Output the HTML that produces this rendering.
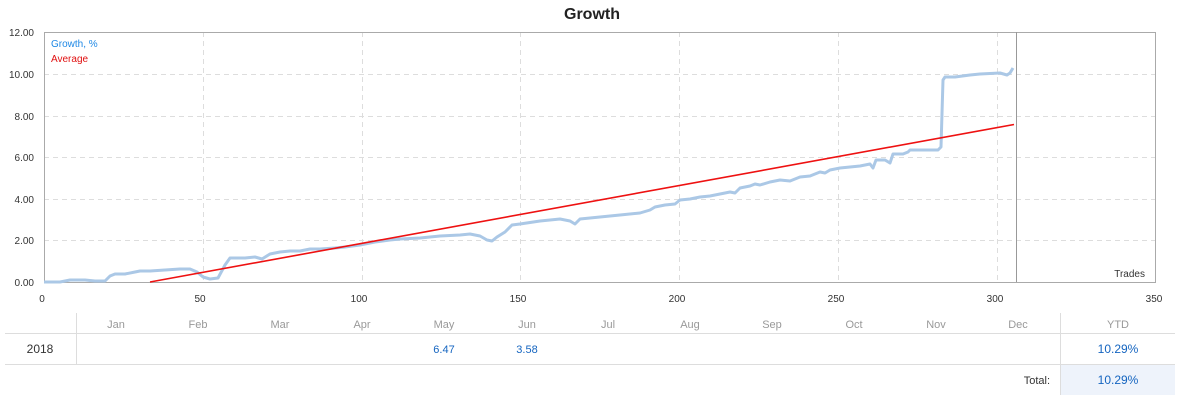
<!DOCTYPE html>
<html><head><meta charset="utf-8"><style>
body{margin:0;background:#fff;width:1185px;height:404px;overflow:hidden;font-family:"Liberation Sans",sans-serif}
</style></head><body>
<svg width="1185" height="404" xmlns="http://www.w3.org/2000/svg" font-family="Liberation Sans, sans-serif">
<text x="592" y="19" text-anchor="middle" font-size="16" font-weight="bold" fill="#222">Growth</text>
<g stroke="#ddd" stroke-dasharray="5,4" stroke-width="1">
<line x1="44" y1="74.5" x2="1155" y2="74.5"/><line x1="44" y1="116.5" x2="1155" y2="116.5"/>
<line x1="44" y1="157.5" x2="1155" y2="157.5"/><line x1="44" y1="199.5" x2="1155" y2="199.5"/>
<line x1="44" y1="240.5" x2="1155" y2="240.5"/>
<line x1="203.5" y1="32" x2="203.5" y2="282"/><line x1="362.5" y1="32" x2="362.5" y2="282"/>
<line x1="520.5" y1="32" x2="520.5" y2="282"/><line x1="679.5" y1="32" x2="679.5" y2="282"/>
<line x1="838.5" y1="32" x2="838.5" y2="282"/><line x1="997.5" y1="32" x2="997.5" y2="282"/>
</g>
<rect x="44.5" y="32.5" width="1111" height="250" fill="none" stroke="#aaa"/>
<line x1="1016.5" y1="32" x2="1016.5" y2="282" stroke="#999"/>
<polyline fill="none" stroke="#abc8e6" stroke-width="3" stroke-linejoin="round" points="44,282 60,282 70,280 85,280 95,281 105,281 110,276 115,274 125,274 135,272 140,271 150,271 165,270 180,269 190,269 197,272 203,277 210,279 218,278 225,265 230,258 245,258 255,257 262,259 270,254 280,252 290,251 300,251 310,249 320,249 335,248 345,247 360,245 375,242 390,240 400,239 420,238 440,236 460,235 470,234 480,236 487,240 492,241 497,237 505,232 512,225 520,224 540,221 560,219 570,221 575,224 580,219 600,217 620,215 640,213 650,210 655,207 665,205 675,204 680,200 690,199 700,197 710,196 720,194 730,192 735,193 740,188 750,186 755,184 760,185 770,182 780,180 790,181 800,177 810,176 820,172 825,173 830,170 840,168 850,167 860,166 870,164 873,168 876,160 885,160 890,163 893,154 903,154 908,152 910,150 935,150 938,150 941,147 943,80 945,77 955,77 970,75 980,74 1000,73 1007,75 1010,73 1013,68"/>
<line x1="150" y1="282" x2="1014" y2="124.5" stroke="#ee1111" stroke-width="1.6"/>
<text x="51" y="47" font-size="10" fill="#1e88e5">Growth, %</text>
<text x="51" y="62" font-size="10" fill="#e01010">Average</text>
<text x="1145" y="277" font-size="10" fill="#333" text-anchor="end">Trades</text>
<g font-size="10" fill="#333" text-anchor="end">
<text x="34" y="36">12.00</text><text x="34" y="78">10.00</text><text x="34" y="120">8.00</text>
<text x="34" y="161">6.00</text><text x="34" y="203">4.00</text><text x="34" y="244">2.00</text><text x="34" y="286">0.00</text>
</g>
<g font-size="10" fill="#333" text-anchor="middle">
<text x="42" y="302">0</text><text x="200" y="302">50</text><text x="359" y="302">100</text><text x="518" y="302">150</text>
<text x="677" y="302">200</text><text x="836" y="302">250</text><text x="995" y="302">300</text><text x="1154" y="302">350</text>
</g>
<line x1="76.5" y1="313" x2="76.5" y2="364" stroke="#ddd"/>
<line x1="1060.5" y1="313" x2="1060.5" y2="395" stroke="#ddd"/>
<line x1="5" y1="333.5" x2="1175" y2="333.5" stroke="#ddd"/>
<line x1="5" y1="364.5" x2="1175" y2="364.5" stroke="#ddd"/>
<rect x="1061" y="365" width="114" height="30" fill="#eef3fb"/>
<g font-size="11" fill="#999" text-anchor="middle">
<text x="116" y="328">Jan</text><text x="198" y="328">Feb</text><text x="280" y="328">Mar</text><text x="362" y="328">Apr</text>
<text x="444" y="328">May</text><text x="527" y="328">Jun</text><text x="608" y="328">Jul</text><text x="690" y="328">Aug</text>
<text x="772" y="328">Sep</text><text x="854" y="328">Oct</text><text x="936" y="328">Nov</text><text x="1018" y="328">Dec</text>
<text x="1118" y="328">YTD</text>
</g>
<text x="40" y="353" font-size="12" fill="#333" text-anchor="middle">2018</text>
<text x="444" y="353" font-size="11" fill="#1565c0" text-anchor="middle">6.47</text>
<text x="527" y="353" font-size="11" fill="#1565c0" text-anchor="middle">3.58</text>
<text x="1118" y="353" font-size="12" fill="#1565c0" text-anchor="middle">10.29%</text>
<text x="1050" y="384" font-size="11" fill="#333" text-anchor="end">Total:</text>
<text x="1118" y="384" font-size="12" fill="#1565c0" text-anchor="middle">10.29%</text>
</svg>
</body></html>
